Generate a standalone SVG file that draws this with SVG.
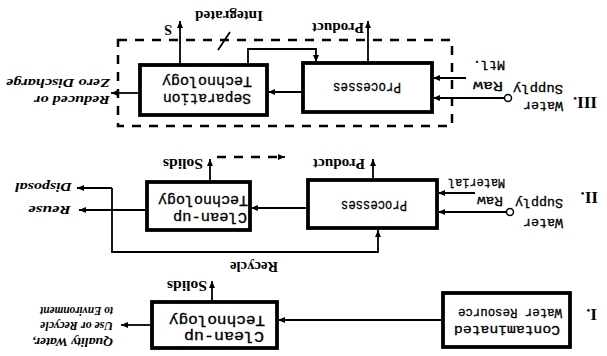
<svg xmlns="http://www.w3.org/2000/svg" width="607" height="356" viewBox="0 0 607 356">
<style>
.box{fill:#fff;stroke:#000;stroke-width:3.8}
.ln{fill:none;stroke:#000;stroke-width:1.8}
.dash{fill:none;stroke:#000;stroke-width:2.5;stroke-dasharray:9 8}
.bt{font-family:"Liberation Mono",monospace;font-size:14px;fill:#000;stroke:#000;stroke-width:0.3}
.pr{font-family:"Liberation Mono",monospace;font-size:15px;fill:#000;stroke:#000;stroke-width:0.3}
.lb{font-family:"Liberation Serif",serif;font-size:14px;font-weight:bold;fill:#000}
.rm{font-family:"Liberation Mono",monospace;font-size:13px;fill:#000;stroke:#000;stroke-width:0.3}
.num{font-family:"Liberation Serif",serif;font-size:17px;font-weight:bold;fill:#000}
.it{font-family:"Liberation Serif",serif;font-size:13px;font-weight:bold;font-style:italic;fill:#000}
</style>
<defs>
<marker id="ah" markerUnits="userSpaceOnUse" markerWidth="8" markerHeight="8" refX="7" refY="4" orient="auto">
<path d="M0 1 L7 4 L0 7 Z" fill="#000"/>
</marker>
</defs>
<g id="frame">
<path class="dash" d="M118 40 H452 V126 H118 Z"/>
</g>
<g id="connectors">
<path class="ln" d="M303 92 H268" marker-end="url(#ah)"/>
<path class="ln" d="M248 65 V49 H316 V62" marker-end="url(#ah)"/>
<path class="ln" d="M368 63 V21" marker-end="url(#ah)"/>
<path class="ln" d="M180 65 V21" marker-end="url(#ah)"/>
<path class="ln" d="M140 93 H111" marker-end="url(#ah)"/>
<path class="ln" d="M504 98 H433" marker-end="url(#ah)"/>
<path class="ln" d="M466 78 H433" marker-end="url(#ah)"/>
<path class="ln" d="M218 50 L230 32"/>
<path class="ln" d="M308 208 H251" marker-end="url(#ah)"/>
<path class="ln" d="M210 182 V159" marker-end="url(#ah)"/>
<path class="dash" d="M217 157 H278" stroke-width="2"/>
<path class="ln" d="M278 157 H285" marker-end="url(#ah)"/>
<path class="ln" d="M373 180 V159" marker-end="url(#ah)"/>
<path class="ln" d="M147 210 H79" marker-end="url(#ah)"/>
<path class="ln" d="M112 188 H77" marker-end="url(#ah)"/>
<path class="ln" d="M112 188 V252 H378 V230" marker-end="url(#ah)"/>
<path class="ln" d="M506 212 H438" marker-end="url(#ah)"/>
<path class="ln" d="M475 193 H438" marker-end="url(#ah)"/>
<path class="ln" d="M443 320 H278" marker-end="url(#ah)"/>
<path class="ln" d="M212 302 V281" marker-end="url(#ah)"/>
<path class="ln" d="M152 325 H121" marker-end="url(#ah)"/>
<circle cx="508" cy="98" r="3.5" fill="#fff" stroke="#000" stroke-width="1.5"/>
<circle cx="510" cy="212" r="3.5" fill="#fff" stroke="#000" stroke-width="1.5"/>
</g>
<g id="sep3">
<rect class="box" x="140" y="65" width="127" height="50"/>
<text class="bt" x="207" y="98" transform="rotate(180 207 98)" text-anchor="middle" dominant-baseline="central" textLength="88" lengthAdjust="spacingAndGlyphs">Separation</text>
<text class="bt" x="207" y="81" transform="rotate(180 207 81)" text-anchor="middle" dominant-baseline="central" textLength="90" lengthAdjust="spacingAndGlyphs">Technology</text>
</g>
<g id="proc3">
<rect class="box" x="303" y="63" width="129" height="49"/>
<text class="pr" x="367" y="86" transform="rotate(180 367 86)" text-anchor="middle" dominant-baseline="central" textLength="68" lengthAdjust="spacingAndGlyphs">Processes</text>
</g>
<g id="clean2">
<rect class="box" x="147" y="182" width="103" height="48"/>
<text class="bt" x="210" y="217" transform="rotate(180 210 217)" text-anchor="middle" dominant-baseline="central" textLength="74" lengthAdjust="spacingAndGlyphs">Clean-up</text>
<text class="bt" x="203" y="200" transform="rotate(180 203 200)" text-anchor="middle" dominant-baseline="central" textLength="90" lengthAdjust="spacingAndGlyphs">Technology</text>
</g>
<g id="proc2">
<rect class="box" x="308" y="180" width="129" height="48"/>
<text class="pr" x="374" y="204" transform="rotate(180 374 204)" text-anchor="middle" dominant-baseline="central" textLength="66" lengthAdjust="spacingAndGlyphs">Processes</text>
</g>
<g id="clean1">
<rect class="box" x="152" y="302" width="125" height="46"/>
<text class="bt" x="224" y="336" transform="rotate(180 224 336)" text-anchor="middle" dominant-baseline="central" textLength="80" lengthAdjust="spacingAndGlyphs">Clean-up</text>
<text class="bt" x="217" y="320" transform="rotate(180 217 320)" text-anchor="middle" dominant-baseline="central" textLength="96" lengthAdjust="spacingAndGlyphs">Technology</text>
</g>
<g id="contam">
<rect class="box" x="443" y="293" width="127" height="54"/>
<text class="rm" x="507" y="329" transform="rotate(180 507 329)" text-anchor="middle" dominant-baseline="central" textLength="106" lengthAdjust="spacingAndGlyphs">Contaminated</text>
<text class="rm" x="510" y="312" transform="rotate(180 510 312)" text-anchor="middle" dominant-baseline="central" textLength="104" lengthAdjust="spacingAndGlyphs">Water Resource</text>
</g>
<g id="labels">
<text class="lb" x="338" y="27" transform="rotate(180 338 27)" text-anchor="middle" dominant-baseline="central" textLength="52" lengthAdjust="spacingAndGlyphs">Product</text>
<text class="lb" x="168" y="29" transform="rotate(180 168 29)" text-anchor="middle" dominant-baseline="central">S</text>
<text class="lb" x="229" y="15" transform="rotate(180 229 15)" text-anchor="middle" dominant-baseline="central" textLength="68" lengthAdjust="spacingAndGlyphs">Integrated</text>
<text class="it" x="110" y="100" transform="rotate(180 110 100)" dominant-baseline="central" textLength="76" lengthAdjust="spacingAndGlyphs">Reduced or</text>
<text class="it" x="110" y="83" transform="rotate(180 110 83)" dominant-baseline="central" textLength="104" lengthAdjust="spacingAndGlyphs">Zero Discharge</text>
<text class="num" x="597" y="102" transform="rotate(180 597 102)" dominant-baseline="central">III.</text>
<text class="rm" x="563" y="105" transform="rotate(180 563 105)" dominant-baseline="central" textLength="40" lengthAdjust="spacingAndGlyphs">Water</text>
<text class="rm" x="563" y="88" transform="rotate(180 563 88)" dominant-baseline="central" textLength="50" lengthAdjust="spacingAndGlyphs">Supply</text>
<text class="rm" x="503" y="85" transform="rotate(180 503 85)" dominant-baseline="central" textLength="30" lengthAdjust="spacingAndGlyphs">Raw</text>
<text class="rm" x="505" y="64" transform="rotate(180 505 64)" dominant-baseline="central" textLength="32" lengthAdjust="spacingAndGlyphs">Mtl.</text>
<text class="lb" x="339" y="163" transform="rotate(180 339 163)" text-anchor="middle" dominant-baseline="central" textLength="52" lengthAdjust="spacingAndGlyphs">Product</text>
<text class="lb" x="183" y="163" transform="rotate(180 183 163)" text-anchor="middle" dominant-baseline="central" textLength="40" lengthAdjust="spacingAndGlyphs">Solids</text>
<text class="it" x="71" y="210" transform="rotate(180 71 210)" dominant-baseline="central" textLength="43" lengthAdjust="spacingAndGlyphs">Reuse</text>
<text class="it" x="72" y="187" transform="rotate(180 72 187)" dominant-baseline="central" textLength="57" lengthAdjust="spacingAndGlyphs">Disposal</text>
<text class="lb" x="254" y="266" transform="rotate(180 254 266)" text-anchor="middle" dominant-baseline="central" textLength="48" lengthAdjust="spacingAndGlyphs">Recycle</text>
<text class="num" x="598" y="197" transform="rotate(180 598 197)" dominant-baseline="central">II.</text>
<text class="rm" x="563" y="222" transform="rotate(180 563 222)" dominant-baseline="central" textLength="40" lengthAdjust="spacingAndGlyphs">Water</text>
<text class="rm" x="563" y="202" transform="rotate(180 563 202)" dominant-baseline="central" textLength="48" lengthAdjust="spacingAndGlyphs">Supply</text>
<text class="rm" x="503" y="200" transform="rotate(180 503 200)" dominant-baseline="central" textLength="26" lengthAdjust="spacingAndGlyphs">Raw</text>
<text class="rm" x="505" y="182" transform="rotate(180 505 182)" dominant-baseline="central" textLength="57" lengthAdjust="spacingAndGlyphs">Material</text>
<text class="lb" x="187" y="285" transform="rotate(180 187 285)" text-anchor="middle" dominant-baseline="central" textLength="40" lengthAdjust="spacingAndGlyphs">Solids</text>
<text class="it" x="113" y="342" transform="rotate(180 113 342)" dominant-baseline="central" textLength="81" lengthAdjust="spacingAndGlyphs">Quality Water,</text>
<text class="it" x="113" y="326" transform="rotate(180 113 326)" dominant-baseline="central" textLength="73" lengthAdjust="spacingAndGlyphs">Use or Recycle</text>
<text class="it" x="113" y="311" transform="rotate(180 113 311)" dominant-baseline="central" textLength="73" lengthAdjust="spacingAndGlyphs">to Environment</text>
<text class="num" x="597" y="314" transform="rotate(180 597 314)" dominant-baseline="central">I.</text>
</g>
</svg>
